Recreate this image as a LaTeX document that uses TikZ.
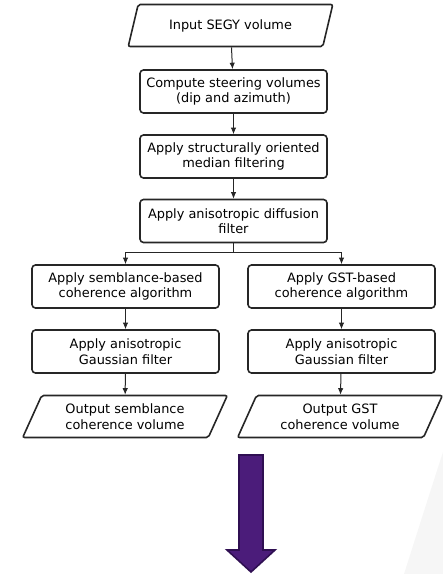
\documentclass[tikz,border=0pt]{standalone}
\usepackage{fontspec}
\setmainfont{DejaVu Sans}
\usepackage{tikz}
\usetikzlibrary{arrows.meta,shapes.geometric}
\definecolor{arrowfill}{HTML}{4B1C7A}
\definecolor{arrowedge}{HTML}{2F0F52}
\definecolor{boxedge}{HTML}{262626}
\begin{document}
\begin{tikzpicture}[>={Latex[length=6.5pt,width=5.5pt]},x=1pt,y=-1pt]
	\tikzset{
	%Define style for process boxes
	proc/.style={
		rectangle,
		rounded corners=3.5pt,
		draw=boxedge, line width=1.6pt,
		minimum width=187pt,
		minimum height=43pt,
		inner sep=0pt,
		align=center,
		font=\fontsize{12.9}{15.6}\selectfont},
	%Define style for input/output
	iobox/.style={
		trapezium,
		trapezium left angle=62,
		trapezium right angle=118,
		trapezium stretches=true,
		rounded corners=2pt,
		draw=boxedge, line width=1.6pt,
		minimum width=205pt,
		minimum height=42pt,
		inner sep=0pt,
		align=center,
		font=\fontsize{12.9}{15.6}\selectfont},
	% Define arrow style
	pil/.style={
		->,
		line width=1pt,
		draw=boxedge}
}
\useasboundingbox (0,0) rectangle (443,574);

	%faint background swoosh
	\fill[gray!7] (404,574) .. controls (418,530) and (430,492) .. (443,452) -- (443,574) -- cycle;

	%main column
	\node[iobox] at (230.5,25.5) (segy) {Input SEGY volume};
	\node[proc] at (233.5,91.5) (steer) {Compute steering volumes\\(dip and azimuth)};
	\node[proc] at (233.5,156.5) (median) {Apply structurally oriented\\median filtering};
	\node[proc] at (233.5,221) (diffusion) {Apply anisotropic diffusion\\filter};
	%left column
	\node[proc] at (125.5,286.5) (semb) {Apply semblance-based\\coherence algorithm};
	\node[proc] at (125.5,351.5) (gaussL) {Apply anisotropic\\Gaussian filter};
	\node[iobox] at (125,416.5) (outsemb) {Output semblance\\coherence volume};
	%right column
	\node[proc] at (341.5,286.5) (gst) {Apply GST-based\\coherence algorithm};
	\node[proc] at (341.5,351.5) (gaussR) {Apply anisotropic\\Gaussian filter};
	\node[iobox] at (340,416.5) (outgst) {Output GST\\coherence volume};

	\coordinate (split) at (233.5,252);

	\draw[pil] (segy) -- (steer);
	\draw[pil] (steer) -- (median);
	\draw[pil] (median) -- (diffusion);
	\draw[line width=1pt,draw=boxedge] (diffusion) -- (split);
	\draw[pil] (split) -| (semb);
	\draw[pil] (split) -| (gst);
	\draw[pil] (semb) -- (gaussL);
	\draw[pil] (gaussL) -- (outsemb);
	\draw[pil] (gst) -- (gaussR);
	\draw[pil] (gaussR) -- (outgst);

	%big purple arrow
	\draw[fill=arrowfill,draw=arrowedge,line width=1.6pt]
		(239,455) -- (263,455) -- (263,550) -- (275,550) -- (251,572)
		-- (227,550) -- (239,550) -- cycle;

\end{tikzpicture}
\end{document}
